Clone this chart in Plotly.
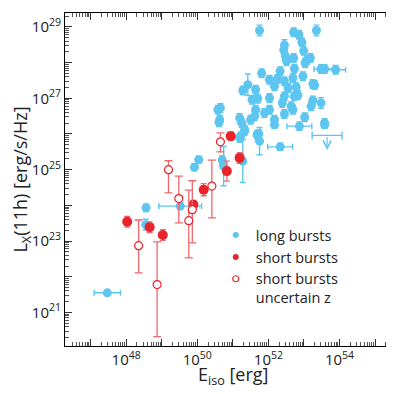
import numpy as np
import plotly.graph_objects as go

# log10 values
long_e = [51.75, 52.71, 52.86, 53.35, 52.94, 52.45, 52.43, 52.99, 52.48, 52.71, 53.09, 53.18, 52.51, 53.03,
          51.81, 52.33, 52.73, 53.48, 53.58, 53.89, 52.97, 52.69, 52.03, 52.25, 52.45, 51.42, 51.28, 51.64,
          52.17, 52.55, 52.78, 53.25, 53.30, 51.54, 51.70, 52.03, 52.45, 52.73, 52.83, 53.25, 53.48, 53.20,
          52.39, 52.64, 50.65, 50.58, 51.64, 52.03, 51.89, 51.61, 52.45, 52.69, 50.63, 50.61, 51.19, 51.50,
          52.17, 53.02, 51.25, 53.58, 52.87, 51.33, 51.73, 51.22, 51.19, 51.33, 51.68, 50.04, 49.92, 50.70,
          50.74, 51.28, 48.56, 49.52, 48.55, 47.47, 51.75, 52.33, 52.17, 53.58]
long_l = [28.90, 28.85, 28.78, 28.90, 28.57, 28.49, 28.35, 28.33, 28.18, 28.13, 28.08, 28.13, 28.04, 27.99,
          27.70, 27.76, 27.83, 27.82, 27.82, 27.80, 27.62, 27.57, 27.52, 27.54, 27.48, 27.38, 27.22, 27.24,
          27.34, 27.29, 27.32, 27.40, 27.37, 26.96, 26.99, 27.01, 27.06, 27.06, 27.09, 26.94, 26.87, 26.78,
          26.87, 26.78, 26.73, 26.68, 26.68, 26.68, 26.59, 26.50, 26.56, 26.68, 26.40, 26.33, 26.45, 26.40,
          26.40, 26.47, 26.31, 26.31, 26.22, 26.12, 26.00, 25.94, 25.89, 26.08, 25.98, 25.28, 25.07, 25.27,
          25.10, 25.24, 23.93, 23.98, 23.46, 21.55, 25.80, 25.64, 26.26, 26.26]
long_lerr = [0.15, 0.12, 0.12, 0.15, 0.12, 0.15, 0.12, 0.12, 0.12, 0.12, 0.12, 0.12, 0.12, 0.12,
             0.12, 0.12, 0.12, 0.12, 0.12, 0.12, 0.12, 0.12, 0.12, 0.12, 0.12, 0.30, 0.12, 0.12,
             0.12, 0.12, 0.12, 0.12, 0.12, 0.12, 0.12, 0.12, 0.12, 0.12, 0.12, 0.12, 0.15, 0.12,
             0.12, 0.12, 0.12, 0.12, 0.12, 0.12, 0.12, 0.12, 0.12, 0.12, 0.12, 0.12, 0.12, 0.12,
             0.12, 0.12, 0.12, 0.12, 0.12, 0.12, 0.12, 0.12, 0.12, 0.12, 0.12, 0.10, 0.10, 0.12,
             0.55, 0.60, 0.10, 0.10, 0.15, 0.05, 0.38, 0.10, 0.10, 0.10]
long_eerr = [0, 0, 0, 0, 0, 0, 0, 0, 0, 0, 0, 0, 0, 0,
             0, 0, 0, 0, 0.3, 0.28, 0, 0, 0, 0, 0, 0, 0, 0,
             0, 0, 0, 0, 0, 0, 0, 0, 0, 0, 0, 0, 0, 0,
             0, 0, 0, 0, 0, 0, 0, 0, 0, 0, 0, 0, 0, 0,
             0, 0, 0, 0, 0.35, 0, 0, 0, 0, 0, 0, 0, 0, 0,
             0, 0, 0, 0.6, 0, 0.37, 0, 0.35, 0, 0]

# upper limit (long burst)
ul_e, ul_l, ul_eerr, ul_tip = 53.65, 25.96, 0.42, 25.55

short_e = [48.03, 48.66, 49.03, 49.89, 50.18, 50.83, 51.19, 50.94]
short_l = [23.54, 23.39, 23.17, 24.02, 24.44, 24.96, 25.33, 25.94]
short_lerr = [0.15, 0.15, 0.15, 0.12, 0.17, 0.28, 0.15, 0.12]
short_eerr = [0, 0, 0.1, 0, 0, 0, 0, 0]

unc_e = [48.35, 48.87, 49.19, 49.48, 49.76, 49.86, 50.41, 50.65]
unc_l = [22.87, 21.78, 25.00, 24.19, 23.57, 23.88, 24.54, 25.78]
unc_up = [23.59, 22.98, 25.25, 24.82, 24.43, 24.69, 25.27, 26.03]
unc_lo = [22.11, 20.32, 24.35, 23.51, 22.53, 22.95, 23.65, 25.50]

x_decades = list(range(46, 56))
x_labeled = [48, 50, 52, 54]
y_decades = list(range(20, 30))
y_labeled = [21, 23, 25, 27, 29]

BLUE = "#5cc6f0"
RED = "#e8232a"
PINK = "#f0686c"


def pw(a):
    return np.power(10.0, np.array(a, dtype=float))


def errs(c, lo, hi):
    c, lo, hi = np.array(c), np.array(lo), np.array(hi)
    return pw(hi) - pw(c), pw(c) - pw(lo)


fig = go.Figure()

le = np.array(long_e); ll = np.array(long_l)
lp, lm = errs(ll, ll - np.array(long_lerr), ll + np.array(long_lerr))
xp, xm = errs(le, le - np.array(long_eerr), le + np.array(long_eerr))
fig.add_trace(go.Scatter(
    x=pw(le), y=pw(ll), mode="markers", showlegend=False,
    marker=dict(color=BLUE, size=9),
    error_y=dict(type="data", array=lp, arrayminus=lm, color=BLUE, width=3, thickness=1.4),
    error_x=dict(type="data", array=xp, arrayminus=xm, color=BLUE, width=3, thickness=1.4),
))

# upper limit
fig.add_trace(go.Scatter(
    x=pw([ul_e]), y=pw([ul_l]), mode="markers", showlegend=False,
    marker=dict(color=BLUE, size=1),
    error_x=dict(type="data", array=pw([ul_e + ul_eerr]) - pw([ul_e]),
                 arrayminus=pw([ul_e]) - pw([ul_e - ul_eerr]), color=BLUE, width=4, thickness=1.4),
))
fig.add_annotation(x=ul_e, y=ul_tip, ax=ul_e, ay=ul_l, axref="x", ayref="y", xref="x", yref="y",
                   text="", showarrow=True, arrowhead=5, arrowsize=1.3, arrowwidth=1.2, arrowcolor=BLUE)

se = np.array(short_e); sl = np.array(short_l)
sp, sm = errs(sl, sl - np.array(short_lerr), sl + np.array(short_lerr))
sxp, sxm = errs(se, se - np.array(short_eerr), se + np.array(short_eerr))
fig.add_trace(go.Scatter(
    x=pw(se), y=pw(sl), mode="markers", showlegend=False,
    marker=dict(color=RED, size=10),
    error_y=dict(type="data", array=sp, arrayminus=sm, color=PINK, width=3, thickness=1.3),
    error_x=dict(type="data", array=sxp, arrayminus=sxm, color=PINK, width=3, thickness=1.3),
))

ue = np.array(unc_e); ul = np.array(unc_l)
up, um = errs(ul, unc_lo, unc_up)
fig.add_trace(go.Scatter(
    x=pw(ue), y=pw(ul), mode="markers", showlegend=False,
    marker=dict(color="white", size=8, line=dict(color=RED, width=1.2)),
    error_y=dict(type="data", array=up, arrayminus=um, color=PINK, width=4, thickness=1.3),
))

# legend entries
for name, mk in [("long bursts", dict(color=BLUE, size=6)),
                 ("short bursts", dict(color=RED, size=6)),
                 ("short bursts<br>uncertain z", dict(color="white", size=6, line=dict(color=RED, width=1.2)))]:
    fig.add_trace(go.Scatter(x=[None], y=[None], mode="markers", name=name, marker=mk))


def log_axis(decades, labeled):
    vals = [10.0 ** k for k in decades]
    text = [f"10<sup>{k}</sup>" if k in labeled else "" for k in decades]
    minor_vals = [m * 10.0 ** k for k in decades for m in range(2, 10)]
    return dict(
        type="log", showline=True, linecolor="black", linewidth=1, mirror="allticks",
        ticks="inside", ticklen=7, tickcolor="#333", tickmode="array",
        tickvals=vals, ticktext=text, showgrid=False, zeroline=False,
        minor=dict(ticks="inside", ticklen=4, tickcolor="#555", showgrid=False,
                   tickmode="array", tickvals=minor_vals),
        tickfont=dict(size=15, color="#222"),
    )


fig.update_xaxes(**log_axis(x_decades, x_labeled), range=[46.28, 55.70], tickangle=0)
fig.update_yaxes(**log_axis(y_decades, y_labeled), range=[20.06, 29.39],
                 title=dict(text="L<sub>X</sub>(11h) [erg/s/Hz]", font=dict(size=18, color="#222"), standoff=2))

fig.add_annotation(text="E<sub>iso</sub> [erg]", xref="paper", yref="paper", x=0.5, y=-0.042,
                   xanchor="center", yanchor="top", showarrow=False, font=dict(size=18, color="#222"))

fig.update_layout(
    width=394, height=394,
    margin=dict(l=57, r=2, t=5, b=56),
    paper_bgcolor="white", plot_bgcolor="white",
    font=dict(family="Open Sans, Noto Sans, sans-serif", color="#222"),
    legend=dict(x=0.45, y=0.381, xanchor="left", yanchor="top", valign="top",
                font=dict(size=14.5, color="#222"), bgcolor="rgba(0,0,0,0)",
                tracegroupgap=0, itemwidth=30),
)

fig.write_html("out.html")
